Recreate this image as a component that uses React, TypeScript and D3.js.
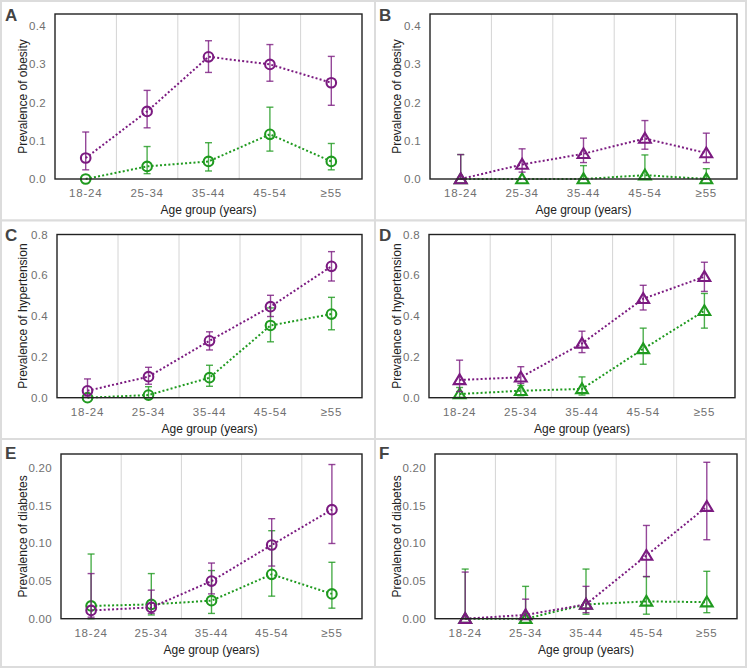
import React from "react";
import * as d3 from "d3";

const categories = ["18-24", "25-34", "35-44", "45-54", "≥55"];

// Panel A – obesity (circles)
const aPurpleMean = [0.055, 0.177, 0.32, 0.3, 0.252];
const aPurpleLo = [0.024, 0.134, 0.279, 0.256, 0.193];
const aPurpleHi = [0.123, 0.232, 0.362, 0.352, 0.321];
const aGreenMean = [0, 0.033, 0.046, 0.117, 0.046];
const aGreenLo = [0, 0.014, 0.021, 0.073, 0.024];
const aGreenHi = [0, 0.085, 0.095, 0.188, 0.093];

// Panel B – obesity (triangles)
const bPurpleMean = [0, 0.038, 0.066, 0.106, 0.068];
const bPurpleLo = [0, 0.018, 0.043, 0.078, 0.043];
const bPurpleHi = [0.064, 0.079, 0.107, 0.153, 0.12];
const bGreenMean = [0, 0, 0, 0.01, 0];
const bGreenLo = [0, 0, 0, 0, 0];
const bGreenHi = [0.064, 0, 0.035, 0.063, 0.027];

// Panel C – hypertension (circles)
const cPurpleMean = [0.034, 0.103, 0.279, 0.446, 0.644];
const cPurpleLo = [0.003, 0.066, 0.234, 0.398, 0.572];
const cPurpleHi = [0.092, 0.149, 0.323, 0.502, 0.716];
const cGreenMean = [0, 0.013, 0.098, 0.354, 0.41];
const cGreenLo = [0, 0, 0.056, 0.274, 0.333];
const cGreenHi = [0, 0.054, 0.159, 0.44, 0.492];

// Panel D – hypertension (triangles)
const dPurpleMean = [0.087, 0.1, 0.266, 0.485, 0.593];
const dPurpleLo = [0.03, 0.07, 0.221, 0.43, 0.521];
const dPurpleHi = [0.184, 0.152, 0.326, 0.551, 0.664];
const dGreenMean = [0.018, 0.034, 0.043, 0.239, 0.426];
const dGreenLo = [0.002, 0.01, 0.013, 0.164, 0.341];
const dGreenHi = [0.05, 0.06, 0.102, 0.341, 0.511];

// Panel E – diabetes (circles)
const ePurpleMean = [0.011, 0.015, 0.05, 0.098, 0.145];
const ePurpleLo = [0.002, 0.007, 0.033, 0.07, 0.1];
const ePurpleHi = [0.06, 0.038, 0.074, 0.133, 0.205];
const eGreenMean = [0.017, 0.019, 0.024, 0.059, 0.033];
const eGreenLo = [0, 0.005, 0.007, 0.03, 0.014];
const eGreenHi = [0.086, 0.06, 0.064, 0.117, 0.075];

// Panel F – diabetes (triangles)
const fPurpleMean = [0, 0.005, 0.019, 0.084, 0.149];
const fPurpleLo = [0, 0, 0.008, 0.056, 0.105];
const fPurpleHi = [0.062, 0.026, 0.043, 0.124, 0.208];
const fGreenMean = [0, 0, 0.019, 0.023, 0.022];
const fGreenLo = [0, 0, 0.006, 0.006, 0.008];
const fGreenHi = [0.066, 0.043, 0.066, 0.056, 0.063];

const ticksObesity = [0, 0.1, 0.2, 0.3, 0.4];
const ticksHyper = [0, 0.2, 0.4, 0.6, 0.8];
const ticksDiab = [0, 0.05, 0.1, 0.15, 0.2];

const PURPLE = "#7b1a80";
const GREEN = "#1f9a1f";
const FONT = "'Liberation Sans', Arial, sans-serif";

type Series = { mean: number[]; lo: number[]; hi: number[]; color: string };

type PanelProps = {
  letter: string;
  x0: number;
  x1: number;
  y0: number;
  y1: number;
  yMax: number;
  ticks: number[];
  fmt: string;
  yTitle: string;
  shape: "circle" | "triangle";
  series: Series[];
  cell: [number, number, number, number];
};

function Panel(p: PanelProps) {
  const xBand = d3.scaleBand<string>().domain(categories).range([p.x0, p.x1]).padding(0);
  const y = d3.scaleLinear().domain([0, p.yMax]).range([p.y1, p.y0]);
  const cx = (c: string) => (xBand(c) as number) + xBand.bandwidth() / 2;
  const f = d3.format(p.fmt);
  const line = d3
    .line<number>()
    .x((_, i) => cx(categories[i]))
    .y((v) => y(v));
  const [cx0, cy0, cw, ch] = p.cell;
  const midY = (p.y0 + p.y1) / 2;
  const midX = (p.x0 + p.x1) / 2;
  const tri = (x: number, yy: number) => {
    const s = 5.6;
    return `M${x},${yy - s} L${x + s * 1.05},${yy + s * 0.75} L${x - s * 1.05},${yy + s * 0.75} Z`;
  };
  return (
    <g>
      <rect x={cx0} y={cy0} width={cw} height={ch} fill="#fff" stroke="#dcdcdc" strokeWidth={2} />
      <text x={cx0 + 4} y={cy0 + 20} fontFamily={FONT} fontWeight="bold" fontSize={17} fill="#444">
        {p.letter}
      </text>
      {categories.slice(1).map((c) => (
        <line
          key={"g" + c}
          x1={xBand(c) as number}
          x2={xBand(c) as number}
          y1={p.y0}
          y2={p.y1}
          stroke="#d4d4d4"
          strokeWidth={1}
        />
      ))}
      {p.ticks.map((t) => (
        <text
          key={"yt" + t}
          x={p.x0 - 9}
          y={y(t) + 4}
          textAnchor="end"
          fontFamily={FONT}
          fontSize={11.5}
          letterSpacing={0.3}
          fill="#707070"
        >
          {f(t)}
        </text>
      ))}
      {categories.map((c) => (
        <text
          key={"xt" + c}
          x={cx(c)}
          y={p.y1 + 18}
          textAnchor="middle"
          fontFamily={FONT}
          fontSize={11.5}
          letterSpacing={0.8}
          fill="#707070"
        >
          {c}
        </text>
      ))}
      <text
        x={midX}
        y={p.y1 + 35}
        textAnchor="middle"
        fontFamily={FONT}
        fontSize={12}
        fill="#222"
      >
        Age group (years)
      </text>
      <text
        transform={`translate(${cx0 + 26},${midY}) rotate(-90)`}
        textAnchor="middle"
        fontFamily={FONT}
        fontSize={12}
        fill="#222"
      >
        {p.yTitle}
      </text>
      {p.series.map((s, si) => (
        <g key={"s" + si}>
          <path
            d={line(s.mean) as string}
            fill="none"
            stroke={s.color}
            strokeWidth={2}
            strokeDasharray="2,2.2"
          />
          {s.mean.map((m, i) => {
            const x = cx(categories[i]);
            const lo = y(s.lo[i]);
            const hi = y(s.hi[i]);
            return (
              <g key={"e" + i} stroke={s.color} strokeOpacity={0.8} strokeWidth={1.4}>
                {s.hi[i] !== s.lo[i] && (
                  <>
                    <line x1={x} x2={x} y1={lo} y2={hi} />
                    <line x1={x - 3.5} x2={x + 3.5} y1={hi} y2={hi} />
                    <line x1={x - 3.5} x2={x + 3.5} y1={lo} y2={lo} />
                  </>
                )}
              </g>
            );
          })}
          {s.mean.map((m, i) => {
            const x = cx(categories[i]);
            const yy = y(m);
            return p.shape === "circle" ? (
              <circle key={"m" + i} cx={x} cy={yy} r={4.8} fill="none" stroke={s.color} strokeWidth={2.1} />
            ) : (
              <path key={"m" + i} d={tri(x, yy)} fill="none" stroke={s.color} strokeWidth={2.1} strokeLinejoin="miter" />
            );
          })}
        </g>
      ))}
      <rect
        x={p.x0}
        y={p.y0}
        width={p.x1 - p.x0}
        height={p.y1 - p.y0}
        fill="none"
        stroke="#222"
        strokeWidth={1.4}
      />
    </g>
  );
}

export default function App() {
  const rowsY = [
    { y0: 14, y1: 179, yMax: 0.432 },
    { y0: 234.5, y1: 397.7, yMax: 0.8 },
    { y0: 454, y1: 618.7, yMax: 0.219 },
  ];
  const cells: [number, number, number, number][] = [
    [1, 1, 374, 219.5],
    [375, 1, 371, 219.5],
    [1, 220.5, 374, 218.5],
    [375, 220.5, 371, 218.5],
    [1, 439, 374, 228],
    [375, 439, 371, 228],
  ];
  return (
    <svg
      width={750}
      height={670}
      style={{ position: "absolute", left: 0, top: 0, background: "#fff" }}
    >
      <rect x={0} y={0} width={750} height={670} fill="#fff" />
      <Panel
        letter="A"
        x0={55}
        x1={362}
        {...rowsY[0]}
        ticks={ticksObesity}
        fmt=".1f"
        yTitle="Prevalence of obesity"
        shape="circle"
        cell={cells[0]}
        series={[
          { mean: aGreenMean, lo: aGreenLo, hi: aGreenHi, color: GREEN },
          { mean: aPurpleMean, lo: aPurpleLo, hi: aPurpleHi, color: PURPLE },
        ]}
      />
      <Panel
        letter="B"
        x0={430}
        x1={737}
        {...rowsY[0]}
        ticks={ticksObesity}
        fmt=".1f"
        yTitle="Prevalence of obesity"
        shape="triangle"
        cell={cells[1]}
        series={[
          { mean: bGreenMean, lo: bGreenLo, hi: bGreenHi, color: GREEN },
          { mean: bPurpleMean, lo: bPurpleLo, hi: bPurpleHi, color: PURPLE },
        ]}
      />
      <Panel
        letter="C"
        x0={57}
        x1={362}
        {...rowsY[1]}
        ticks={ticksHyper}
        fmt=".1f"
        yTitle="Prevalence of hypertension"
        shape="circle"
        cell={cells[2]}
        series={[
          { mean: cGreenMean, lo: cGreenLo, hi: cGreenHi, color: GREEN },
          { mean: cPurpleMean, lo: cPurpleLo, hi: cPurpleHi, color: PURPLE },
        ]}
      />
      <Panel
        letter="D"
        x0={429}
        x1={735}
        {...rowsY[1]}
        ticks={ticksHyper}
        fmt=".1f"
        yTitle="Prevalence of hypertension"
        shape="triangle"
        cell={cells[3]}
        series={[
          { mean: dGreenMean, lo: dGreenLo, hi: dGreenHi, color: GREEN },
          { mean: dPurpleMean, lo: dPurpleLo, hi: dPurpleHi, color: PURPLE },
        ]}
      />
      <Panel
        letter="E"
        x0={61}
        x1={362}
        {...rowsY[2]}
        ticks={ticksDiab}
        fmt=".2f"
        yTitle="Prevalence of diabetes"
        shape="circle"
        cell={cells[4]}
        series={[
          { mean: eGreenMean, lo: eGreenLo, hi: eGreenHi, color: GREEN },
          { mean: ePurpleMean, lo: ePurpleLo, hi: ePurpleHi, color: PURPLE },
        ]}
      />
      <Panel
        letter="F"
        x0={435}
        x1={737}
        {...rowsY[2]}
        ticks={ticksDiab}
        fmt=".2f"
        yTitle="Prevalence of diabetes"
        shape="triangle"
        cell={cells[5]}
        series={[
          { mean: fGreenMean, lo: fGreenLo, hi: fGreenHi, color: GREEN },
          { mean: fPurpleMean, lo: fPurpleLo, hi: fPurpleHi, color: PURPLE },
        ]}
      />
    </svg>
  );
}
